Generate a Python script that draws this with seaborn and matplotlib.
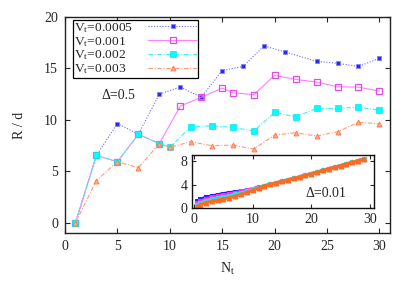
import matplotlib
matplotlib.use("Agg")
import matplotlib.pyplot as plt
import seaborn as sns
import pandas as pd

# ── Data ─────────────────────────────────────────────────────────────────────
labels = ["V$_{\\rm t}$=0.0005", "V$_{\\rm t}$=0.001",
          "V$_{\\rm t}$=0.002", "V$_{\\rm t}$=0.003"]

nt_blue = [1, 3, 5, 7, 9, 11, 13, 15, 17, 19, 21, 24, 26, 28, 30]
rd_blue = [0, 6.55, 9.65, 8.6, 12.5, 13.2, 12.2, 14.8, 15.2, 17.2, 16.6,
           15.7, 15.5, 15.2, 16.0]

nt_mag = [1, 3, 5, 7, 9, 11, 13, 15, 16, 18, 20, 22, 24, 26, 28, 30]
rd_mag = [0, 6.55, 5.93, 8.6, 7.7, 11.35, 12.2, 13.1, 12.65, 12.45, 14.33,
          13.94, 13.68, 13.22, 13.19, 12.8]

nt_cyan = [1, 3, 5, 7, 9, 10, 12, 14, 16, 18, 20, 22, 24, 26, 28, 30]
rd_cyan = [0, 6.55, 5.93, 8.6, 7.7, 7.33, 9.33, 9.43, 9.27, 8.92, 10.73,
           10.3, 11.12, 11.12, 11.25, 10.93]

nt_orange = [1, 3, 5, 7, 9, 10, 12, 14, 16, 18, 20, 22, 24, 26, 28, 30]
rd_orange = [0, 4.1, 5.93, 5.35, 7.7, 7.33, 7.88, 7.49, 7.55, 7.17, 8.52,
             8.75, 8.43, 8.85, 9.76, 9.63]

# inset (Delta = 0.01)
nt_in = [0.5, 1, 2, 3, 4, 5, 6, 7, 8, 9, 10, 11, 12, 13, 14, 15, 16, 17,
         18, 19, 20, 21, 22, 23, 24, 25, 26, 27, 28, 29]
in_blue = [1.2, 1.5, 1.9, 2.1, 2.3, 2.5, 2.65, 2.8, 2.95, 3.1, 3.3, 3.55,
           3.8, 4.05, 4.3, 4.55, 4.8, 5.05, 5.3, 5.6, 5.85, 6.1, 6.4, 6.7,
           6.95, 7.2, 7.5, 7.75, 8.05, 8.35]
in_mag = [0.9, 1.2, 1.6, 1.85, 2.05, 2.25, 2.45, 2.65, 2.85, 3.05, 3.3,
          3.55, 3.8, 4.05, 4.3, 4.55, 4.8, 5.05, 5.3, 5.6, 5.85, 6.1, 6.4,
          6.7, 6.95, 7.2, 7.5, 7.75, 8.05, 8.35]
in_cyan = [0.6, 0.9, 1.25, 1.5, 1.7, 1.9, 2.1, 2.35, 2.6, 2.9, 3.2, 3.5,
           3.8, 4.05, 4.3, 4.55, 4.8, 5.05, 5.3, 5.6, 5.85, 6.1, 6.4, 6.7,
           6.95, 7.2, 7.5, 7.75, 8.05, 8.35]
in_orange = [0.3, 0.6, 0.95, 1.2, 1.4, 1.6, 1.8, 2.05, 2.35, 2.7, 3.05,
             3.4, 3.75, 4.05, 4.3, 4.55, 4.8, 5.05, 5.3, 5.6, 5.85, 6.1,
             6.4, 6.7, 6.95, 7.2, 7.5, 7.75, 8.05, 8.35]

# ── Style ────────────────────────────────────────────────────────────────────
sns.set_style("ticks")
plt.rcParams["font.family"] = ["Liberation Serif", "DejaVu Serif"]
plt.rcParams["mathtext.fontset"] = "custom"
plt.rcParams["mathtext.rm"] = "Liberation Serif"
plt.rcParams["mathtext.it"] = "Liberation Serif:italic"
plt.rcParams["xtick.direction"] = "in"
plt.rcParams["ytick.direction"] = "in"

styles = [
    dict(color="#6a6aff", ls=(0, (1, 1.5)), marker="s", ms=3,
         mfc="#2a2aee", mec="#8080ff", mew=0.6),
    dict(color="#ff80ff", ls="-", marker="s", ms=4,
         mfc="none", mec="#e050e0", mew=0.9),
    dict(color="#40f0f0", ls=(0, (4, 1.5, 1, 1.5)), marker="s", ms=4,
         mfc="#00ffff", mec="#00e8e8", mew=0.5),
    dict(color="#ff9a78", ls=(0, (4, 1.5, 1, 1.5)), marker="^", ms=3.5,
         mfc="#ffb090", mec="#ff7a50", mew=0.7),
]
series = [(nt_blue, rd_blue), (nt_mag, rd_mag),
          (nt_cyan, rd_cyan), (nt_orange, rd_orange)]
inset = [in_blue, in_mag, in_cyan, in_orange]
in_cols = ["#2020ff", "#ff30ff", "#20e8e8", "#ff6a20"]

fig = plt.figure(figsize=(4.15, 2.91), dpi=100)
ax = fig.add_axes([0.1566, 0.1993, 0.783, 0.742])

for (xs, ys), lab, st in zip(series, labels, styles):
    df = pd.DataFrame({"Nt": xs, "R": ys})
    sns.lineplot(data=df, x="Nt", y="R", ax=ax, sort=False, lw=0.8,
                 label=lab, **st)

ax.set_xlim(0, 31)
ax.set_ylim(-1, 20)
ax.set_xticks([0, 5, 10, 15, 20, 25, 30])
ax.set_yticks([0, 5, 10, 15, 20])
ax.tick_params(labelsize=10, length=3.5, width=0.8, top=True, right=True,
               pad=5)
for sp in ax.spines.values():
    sp.set_linewidth(1.0)
    sp.set_color("#222222")
ax.set_xlabel("N$_{\\rm t}$", fontsize=10, labelpad=6)
ax.set_ylabel("R / d", fontsize=10, labelpad=13)
ax.text(3.5, 12.4, "Δ=0.5", fontsize=10, va="center", ha="left")

# gnuplot-style key: text on the left, sample on the right
leg = ax.legend(loc="upper left", bbox_to_anchor=(0.025, 0.988),
                markerfirst=False, fontsize=9.7, handlelength=3.6,
                handletextpad=1.1, labelspacing=0.0, borderpad=0.1,
                borderaxespad=0, fancybox=False, framealpha=1)
leg.get_frame().set_edgecolor("black")
leg.get_frame().set_linewidth(0.9)

# left-align the texts while keeping the samples lined up
fig.canvas.draw()
rend = fig.canvas.get_renderer()
wmax = max(t.get_window_extent(rend).width for t in leg.get_texts())
for col in leg._legend_handle_box.get_children():
    for item in col.get_children():
        w = item.get_children()[0]._text.get_window_extent(rend).width
        item.sep += (wmax - w) * 72 / fig.dpi

# ── Inset ────────────────────────────────────────────────────────────────────
axi = fig.add_axes([0.462, 0.284, 0.439, 0.183])
for ys, st, c in zip(inset, styles, in_cols):
    df = pd.DataFrame({"Nt": nt_in, "R": ys})
    sns.lineplot(data=df, x="Nt", y="R", ax=axi, sort=False, lw=2.2,
                 color=c, marker=st["marker"], ms=3.5, mfc=c, mec=c,
                 legend=False)
axi.set_xlim(-0.4, 30.7)
axi.set_ylim(0, 9)
axi.set_xticks([0, 10, 20, 30])
axi.set_yticks([0, 4, 8])
axi.set_xlabel("")
axi.set_ylabel("")
axi.tick_params(labelsize=10, length=3, width=0.8, top=True, right=True,
                pad=3)
for sp in axi.spines.values():
    sp.set_linewidth(1.0)
    sp.set_color("#111111")
axi.text(19.1, 2.5, "Δ=0.01", fontsize=10, va="center", ha="left")

fig.savefig("out.png", dpi=100)
